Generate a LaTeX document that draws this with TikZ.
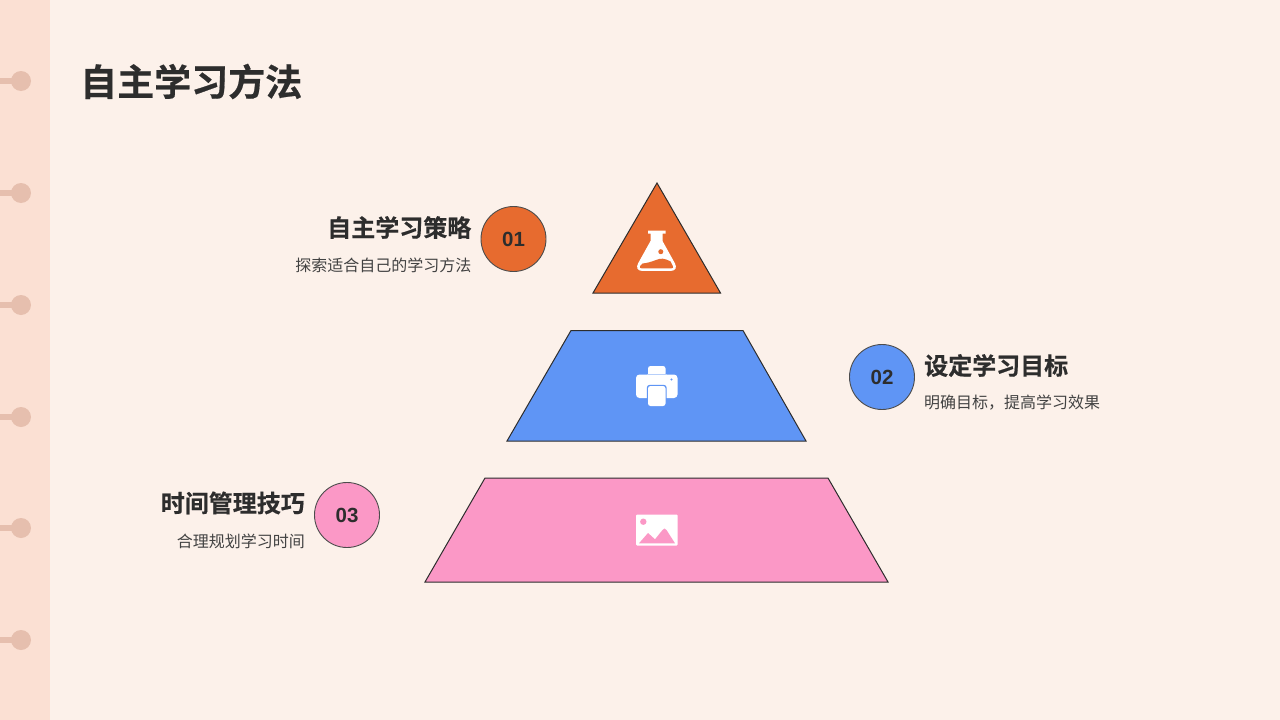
\documentclass[tikz,border=0pt]{standalone}
\usepackage{fontspec}
\setmainfont{Liberation Sans}
\newfontfamily\cjk{Noto Sans CJK SC}
\newfontfamily\cjkb[FakeBold=0.5]{Noto Sans CJK SC Bold}
\definecolor{bgc}{HTML}{FCF1EA}
\definecolor{stripc}{HTML}{FBE0D3}
\definecolor{pegc}{HTML}{E6BFAE}
\definecolor{inkc}{HTML}{2D2D2D}
\definecolor{orangec}{HTML}{E76B2F}
\definecolor{bluec}{HTML}{5F95F5}
\definecolor{pinkc}{HTML}{FB98C6}
\tikzset{
  x=1pt,y=-1pt,
  titletext/.style={font=\fontsize{37}{37}\selectfont\cjkb,text=inkc,anchor=west,inner sep=0pt},
  headtext/.style={font=\fontsize{24}{24}\selectfont\cjkb,text=inkc,inner sep=0pt},
  subtext/.style={font=\fontsize{16}{16}\selectfont\cjk,text=inkc!90,inner sep=0pt},
  numdisc/.style={circle,draw=inkc!85,line width=0.9pt,minimum size=65pt,inner sep=0pt,text=inkc,font=\fontsize{20.5}{20.5}\selectfont\bfseries},
  tier/.style={draw=inkc,line width=1pt,line join=miter},
  peg/.style={fill=pegc,draw=none},
}
\begin{document}
\begin{tikzpicture}
\useasboundingbox (0,0) rectangle (1280,720);
\fill[bgc] (0,0) rectangle (1280,720);
\fill[stripc] (0,0) rectangle (50,720);
\foreach \py in {81,193,305,417,528,640}{
  \fill[peg] (0,\py-3.5) rectangle (16,\py+2.5);
  \fill[peg] (21,\py) circle[radius=10];
}
\node[titletext] (title) at (80,81.5) {自主学习方法};

% pyramid tiers
\draw[tier,fill=orangec] (657,183) -- (720.5,293) -- (593,293) -- cycle;
\draw[tier,fill=bluec] (571,330.5) -- (743,330.5) -- (806,441) -- (507,441) -- cycle;
\draw[tier,fill=pinkc] (485,478) -- (828,478) -- (888,582) -- (425,582) -- cycle;

% flask icon
\fill[white] (648,230.5) -- (665.5,230.5) -- (665.5,233.5) -- (662.5,233.5) -- (662.5,241)
  -- (675,263.5) .. controls (677,267.5) and (675.5,270.8) .. (671.5,270.8) -- (641.5,270.8)
  .. controls (637.5,270.8) and (636,267.5) .. (638,263.5) -- (650.5,241) -- (650.5,233.5) -- (648,233.5) -- cycle;
\fill[orangec] (642.5,263.5) .. controls (648,263) and (652,261.5) .. (656,260)
  .. controls (661,258) and (664,258) .. (670.5,261.5) -- (672.8,266)
  .. controls (673.6,267.6) and (673,268.3) .. (671.5,268.3) -- (641.5,268.3)
  .. controls (640,268.3) and (639.5,267.6) .. (640.2,266) -- cycle;
\fill[orangec] (660.8,251.7) circle[radius=2.5];

% printer icon
\fill[white,rounded corners=2.5pt] (648,366) rectangle (665.5,376);
\fill[white,rounded corners=3.5pt] (636,374.5) rectangle (677.5,398);
\fill[bluec!45!white] (647,374.2) rectangle (666.5,375.2);
\fill[bluec,rounded corners=3pt] (646.8,384.8) rectangle (666.7,407);
\fill[white,rounded corners=2.5pt] (648,386) rectangle (665.5,406);
\fill[bluec] (671.5,379.5) circle[radius=1.2];

% picture icon
\fill[white,rounded corners=1pt] (636,514.5) rectangle (677.5,545.5);
\fill[pinkc] (643.3,521.7) circle[radius=3.2];
\fill[pinkc,line join=round] (639,543.3) -- (648,533) -- (655,539.3)
  -- (662.5,530) .. controls (664,528) and (665,528) .. (666.5,530) -- (675,543.3) -- cycle;

% number discs and labels
\node[numdisc,fill=orangec] (n1) at (513.5,239) {\raisebox{-0.7pt}{01}};
\node[headtext,anchor=east] (h1) at (471.5,227.5) {自主学习策略};
\node[subtext,anchor=east] (s1) at (471.5,265) {探索适合自己的学习方法};

\node[numdisc,fill=bluec] (n2) at (882,377) {\raisebox{-0.7pt}{02}};
\node[headtext,anchor=west] (h2) at (924,365.5) {设定学习目标};
\node[subtext,anchor=west] (s2) at (924,403) {明确目标，提高学习效果};

\node[numdisc,fill=pinkc] (n3) at (347,515) {\raisebox{-0.7pt}{03}};
\node[headtext,anchor=east] (h3) at (305,503) {时间管理技巧};
\node[subtext,anchor=east] (s3) at (305,541) {合理规划学习时间};
\end{tikzpicture}
\end{document}
